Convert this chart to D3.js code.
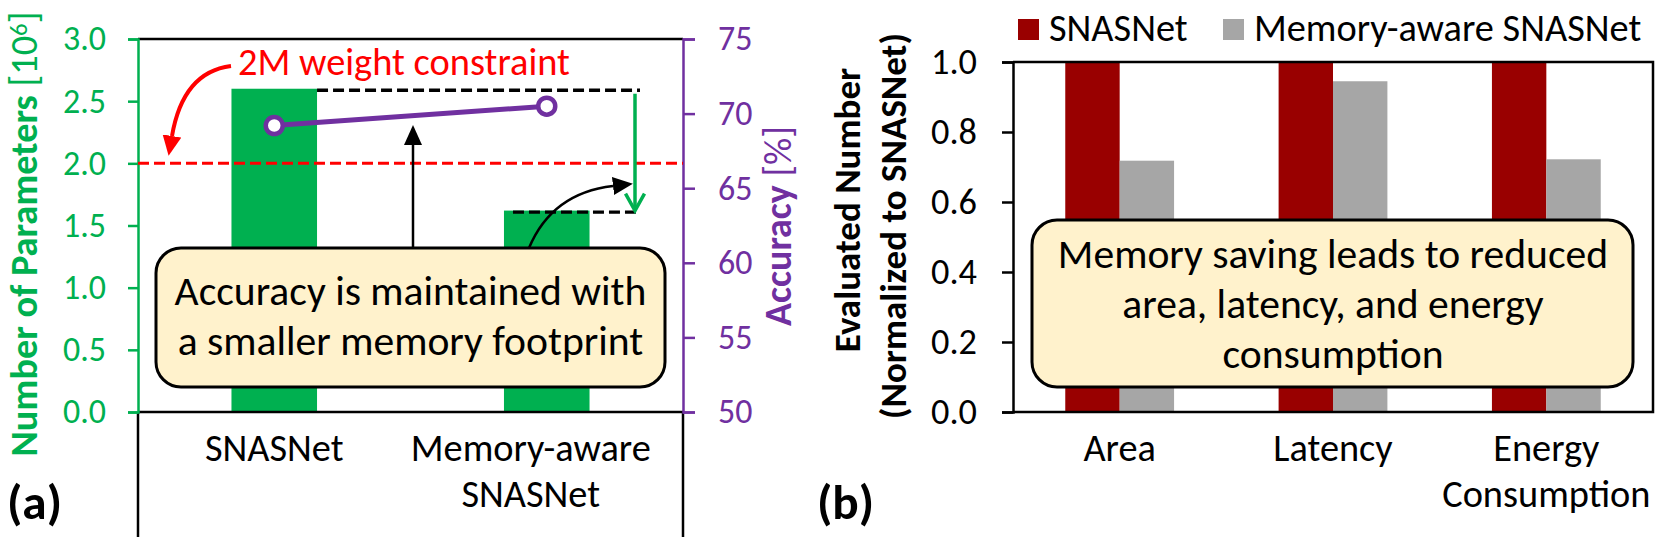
<!DOCTYPE html>
<html><head><meta charset="utf-8">
<script src="https://cdn.jsdelivr.net/npm/d3@7"></script>
<style>
html,body{margin:0;padding:0;background:#fff;}
svg{display:block;}
</style></head><body>
<svg id="chart" width="1660" height="539"></svg>
<script>
// ---------------- data ----------------
const modelsA = ["SNASNet", "Memory-aware\nSNASNet"];
const paramsA = [2.6, 1.62];          // number of parameters [10^6]
const accuracyA = [69.2, 70.5];       // accuracy [%]
const constraintA = 2.0;              // 2M weight constraint
const paramTicks = [0, 0.5, 1.0, 1.5, 2.0, 2.5, 3.0];
const accTicks = [50, 55, 60, 65, 70, 75];

const metricsB = ["Area", "Latency", "Energy\nConsumption"];
const seriesB = ["SNASNet", "Memory-aware SNASNet"];
const snasnetB = [1.0, 1.0, 1.0];
const memAwareB = [0.718, 0.945, 0.722];
const normTicks = [0, 0.2, 0.4, 0.6, 0.8, 1.0];

// ---------------- style ----------------
const FONT = "Carlito, Lato, sans-serif";
const GREEN = "#00B050", PURPLE = "#7030A0", RED = "#FF0000",
      DARKRED = "#990000", GRAY = "#A6A6A6", BOXFILL = "#FFF2CC";

const svg = d3.select("#chart").attr("font-family", FONT);

function fitSize(str, target, weight) {
  const t = svg.append("text").attr("font-size", 100)
    .attr("font-weight", weight || "normal").text(str);
  const w = t.node().getComputedTextLength();
  t.remove();
  return 100 * target / w;
}
const fsTickA = fitSize("3.0", 43);
const fsTickB = fitSize("1.0", 46);
const fsCat = fitSize("Memory-aware", 240);
const fsAnn = fitSize("2M weight constraint", 332);
const fsBox = fitSize("Accuracy is maintained with", 472);
const fsPanel = fitSize("(a)", 55, "bold");
const fsTitleB = fitSize("(Normalized to SNASNet)", 386, "bold");

const defs = svg.append("defs");
function headMarker(id, color, len, wid) {
  defs.append("marker").attr("id", id)
    .attr("markerUnits", "userSpaceOnUse")
    .attr("viewBox", `0 0 ${len} ${wid}`)
    .attr("markerWidth", len).attr("markerHeight", wid)
    .attr("refX", 0).attr("refY", wid / 2)
    .attr("orient", "auto")
    .append("path").attr("d", `M0,0 L${len},${wid / 2} L0,${wid} Z`).attr("fill", color);
}
headMarker("headBlack", "#000", 20, 18);
headMarker("headRed", RED, 20, 19);

function multiLine(sel, str, lineH) {
  str.split("\n").forEach((s, i) => {
    sel.append("tspan").attr("x", 0).attr("dy", i === 0 ? 0 : lineH).text(s);
  });
}

// =============== Panel (a) ===============
const A = { left: 138, right: 683, top: 39, bottom: 412 };
const xA = d3.scaleBand().domain(modelsA).range([A.left, A.right])
  .paddingInner(0.686).paddingOuter(0.343);
const yP = d3.scaleLinear().domain([0, 3]).range([A.bottom, A.top]);
const yAcc = d3.scaleLinear().domain([50, 75]).range([A.bottom, A.top]);
const gA = svg.append("g");

gA.selectAll("rect.barA").data(modelsA).join("rect").attr("class", "barA")
  .attr("x", d => xA(d)).attr("y", (d, i) => yP(paramsA[i]))
  .attr("width", xA.bandwidth()).attr("height", (d, i) => yP(0) - yP(paramsA[i]))
  .attr("fill", GREEN);

// frame
gA.append("line").attr("x1", A.left).attr("x2", A.right).attr("y1", A.top).attr("y2", A.top)
  .attr("stroke", "#000").attr("stroke-width", 2.5);
gA.append("line").attr("x1", A.left).attr("x2", A.right).attr("y1", A.bottom).attr("y2", A.bottom)
  .attr("stroke", "#000").attr("stroke-width", 2.5);
[A.left, A.right].forEach(x => {
  gA.append("line").attr("x1", x).attr("x2", x).attr("y1", A.bottom).attr("y2", 537)
    .attr("stroke", "#000").attr("stroke-width", 2.5);
});

// left axis
const gL = gA.append("g").attr("transform", `translate(${A.left},0)`)
  .call(d3.axisLeft(yP).tickValues(paramTicks).tickFormat(d3.format(".1f")).tickSize(10).tickPadding(22));
gL.select(".domain").attr("stroke", GREEN).attr("stroke-width", 2.5);
gL.selectAll(".tick line").attr("stroke", GREEN).attr("stroke-width", 2.5);
gL.selectAll(".tick text").attr("fill", GREEN).attr("font-size", fsTickA).attr("font-family", FONT);

// right axis
const gR = gA.append("g").attr("transform", `translate(${A.right},0)`)
  .call(d3.axisRight(yAcc).tickValues(accTicks).tickFormat(d3.format("d")).tickSize(12).tickPadding(23));
gR.select(".domain").attr("stroke", PURPLE).attr("stroke-width", 2.5);
gR.selectAll(".tick line").attr("stroke", PURPLE).attr("stroke-width", 2.5);
gR.selectAll(".tick text").attr("fill", PURPLE).attr("font-size", fsTickA).attr("font-family", FONT);

// constraint line
gA.append("line").attr("x1", A.left).attr("x2", A.right)
  .attr("y1", yP(constraintA)).attr("y2", yP(constraintA))
  .attr("stroke", RED).attr("stroke-width", 3).attr("stroke-dasharray", "11,5");

// reference dashed lines at bar tops
const dashEnd = 640;
gA.append("line").attr("x1", xA(modelsA[0]) + xA.bandwidth()).attr("x2", dashEnd)
  .attr("y1", yP(paramsA[0]) + 1.5).attr("y2", yP(paramsA[0]) + 1.5)
  .attr("stroke", "#000").attr("stroke-width", 3.3).attr("stroke-dasharray", "11,5");
gA.append("line").attr("x1", xA(modelsA[1]) + 9).attr("x2", dashEnd)
  .attr("y1", yP(paramsA[1]) + 1.5).attr("y2", yP(paramsA[1]) + 1.5)
  .attr("stroke", "#000").attr("stroke-width", 3.3).attr("stroke-dasharray", "11,5");

// green reduction arrow
const gx = 635, gTop = yP(paramsA[0]) + 5, gTip = yP(paramsA[1]);
gA.append("line").attr("x1", gx).attr("x2", gx).attr("y1", gTop).attr("y2", gTip - 1)
  .attr("stroke", GREEN).attr("stroke-width", 3.5);
gA.append("path").attr("d", `M${gx - 9.5},${gTip - 17} L${gx},${gTip} L${gx + 9.5},${gTip - 17}`)
  .attr("fill", "none").attr("stroke", GREEN).attr("stroke-width", 3.5);

// black vertical arrow from box to accuracy line
gA.append("path").attr("d", "M413,248 L413,145")
  .attr("stroke", "#000").attr("stroke-width", 2.5).attr("fill", "none")
  .attr("marker-end", "url(#headBlack)");
// black curved arrow from box to green arrow
gA.append("path").attr("d", "M529,248 Q552,193 613,186")
  .attr("stroke", "#000").attr("stroke-width", 2.5).attr("fill", "none")
  .attr("marker-end", "url(#headBlack)");

// red annotation
gA.append("text").attr("x", 238).attr("y", 75).attr("fill", RED)
  .attr("font-size", fsAnn).text("2M weight constraint");
gA.append("path").attr("d", "M231,66 Q183,72 172,136")
  .attr("stroke", RED).attr("stroke-width", 4).attr("fill", "none")
  .attr("marker-end", "url(#headRed)");

// accuracy line
const xc = d => xA(d) + xA.bandwidth() / 2;
gA.append("path").datum(modelsA)
  .attr("d", d3.line().x(d => xc(d)).y((d, i) => yAcc(accuracyA[i])))
  .attr("fill", "none").attr("stroke", PURPLE).attr("stroke-width", 5);
gA.selectAll("circle.acc").data(modelsA).join("circle").attr("class", "acc")
  .attr("cx", d => xc(d)).attr("cy", (d, i) => yAcc(accuracyA[i])).attr("r", 8.5)
  .attr("fill", "#fff").attr("stroke", PURPLE).attr("stroke-width", 4.5);

// annotation box
gA.append("rect").attr("x", 156).attr("y", 248).attr("width", 509).attr("height", 139)
  .attr("rx", 25).attr("fill", BOXFILL).attr("stroke", "#000").attr("stroke-width", 3);
["Accuracy is maintained with", "a smaller memory footprint"].forEach((s, i) => {
  gA.append("text").attr("x", 410.5).attr("y", 305 + i * 50).attr("text-anchor", "middle")
    .attr("font-size", fsBox).attr("fill", "#000").text(s);
});

// category labels
gA.selectAll("text.catA").data(modelsA).join("text").attr("class", "catA")
  .attr("transform", (d, i) => `translate(${xc(d) + (i === 1 ? -16 : 0)},461)`)
  .attr("text-anchor", "middle").attr("font-size", fsCat).attr("fill", "#000")
  .each(function (d) { multiLine(d3.select(this), d, 46); });

// axis titles
const tL = gA.append("text").attr("transform", "translate(37,234) rotate(-90)")
  .attr("text-anchor", "middle").attr("fill", GREEN).attr("font-size", 100);
tL.append("tspan").attr("font-weight", "bold").text("Number of Parameters ");
tL.append("tspan").text("[10");
tL.append("tspan").attr("font-size", "0.65em").attr("dy", "-0.4em").text("6");
tL.append("tspan").attr("dy", "0.26em").text("]");
tL.attr("font-size", 100 * 445 / tL.node().getComputedTextLength());

const tR = gA.append("text").attr("transform", "translate(791,226) rotate(-90)")
  .attr("text-anchor", "middle").attr("fill", PURPLE).attr("font-size", 100);
tR.append("tspan").attr("font-weight", "bold").text("Accuracy ");
tR.append("tspan").text("[%]");
tR.attr("font-size", 100 * 200 / tR.node().getComputedTextLength());

svg.append("text").attr("x", 7).attr("y", 519).attr("font-weight", "bold")
  .attr("font-size", fsPanel).text("(a)");

// =============== Panel (b) ===============
const B = { left: 1013, right: 1653, top: 62, bottom: 412 };
const xB = d3.scaleBand().domain(metricsB).range([B.left, B.right])
  .paddingInner(0.49).paddingOuter(0.245);
const xS = d3.scaleBand().domain(seriesB).range([0, xB.bandwidth()]);
const yB = d3.scaleLinear().domain([0, 1]).range([B.bottom, B.top]);
const colorB = d3.scaleOrdinal().domain(seriesB).range([DARKRED, GRAY]);
const valuesB = [snasnetB, memAwareB];
const gB = svg.append("g");

const groups = gB.selectAll("g.metric").data(metricsB).join("g").attr("class", "metric")
  .attr("transform", d => `translate(${xB(d)},0)`);
groups.selectAll("rect").data((d, i) => seriesB.map((s, j) => ({ s, v: valuesB[j][i] })))
  .join("rect").attr("x", d => xS(d.s)).attr("y", d => yB(d.v))
  .attr("width", xS.bandwidth()).attr("height", d => yB(0) - yB(d.v))
  .attr("fill", d => colorB(d.s));

gB.append("path")
  .attr("d", `M${B.left},${B.top} H${B.right} V${B.bottom} H${B.left}`)
  .attr("fill", "none").attr("stroke", "#000").attr("stroke-width", 2.5);

const gBL = gB.append("g").attr("transform", `translate(${B.left},0)`)
  .call(d3.axisLeft(yB).tickValues(normTicks).tickFormat(d3.format(".1f")).tickSize(11).tickPadding(25));
gBL.select(".domain").attr("stroke", "#000").attr("stroke-width", 2.5);
gBL.selectAll(".tick line").attr("stroke", "#000").attr("stroke-width", 2.5);
gBL.selectAll(".tick text").attr("fill", "#000").attr("font-size", fsTickB).attr("font-family", FONT);

// annotation box
gB.append("rect").attr("x", 1032).attr("y", 220).attr("width", 601).attr("height", 167)
  .attr("rx", 25).attr("fill", BOXFILL).attr("stroke", "#000").attr("stroke-width", 3);
["Memory saving leads to reduced", "area, latency, and energy", "consumption"].forEach((s, i) => {
  gB.append("text").attr("x", 1333).attr("y", 268 + i * 50).attr("text-anchor", "middle")
    .attr("font-size", fsBox).attr("fill", "#000").text(s);
});

// category labels
gB.selectAll("text.catB").data(metricsB).join("text").attr("class", "catB")
  .attr("transform", d => `translate(${xB(d) + xB.bandwidth() / 2},461)`)
  .attr("text-anchor", "middle").attr("font-size", fsCat).attr("fill", "#000")
  .each(function (d) { multiLine(d3.select(this), d, 46); });

// legend
const legX = [1018, 1223];
seriesB.forEach((s, j) => {
  gB.append("rect").attr("x", legX[j]).attr("y", 19).attr("width", 21).attr("height", 21)
    .attr("fill", colorB(s));
  gB.append("text").attr("x", legX[j] + 31).attr("y", 41).attr("font-size", fsCat)
    .attr("fill", "#000").text(s);
});

// axis title
[["Evaluated Number", 860, 210], ["(Normalized to SNASNet)", 906, 226]].forEach(([s, x, y]) => {
  gB.append("text").attr("transform", `translate(${x},${y}) rotate(-90)`)
    .attr("text-anchor", "middle").attr("font-weight", "bold").attr("font-size", fsTitleB)
    .attr("fill", "#000").text(s);
});

svg.append("text").attr("x", 817).attr("y", 519).attr("font-weight", "bold")
  .attr("font-size", fsPanel).text("(b)");
</script></body></html>
